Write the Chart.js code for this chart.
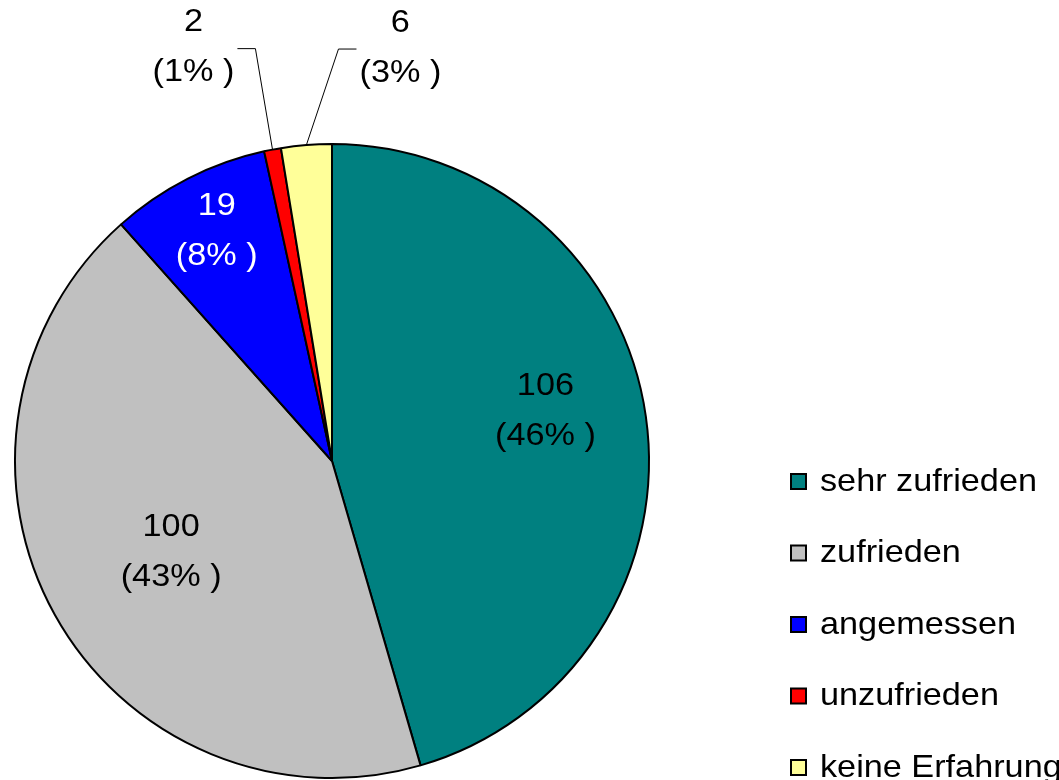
<!DOCTYPE html>
<html>
<head>
<meta charset="utf-8">
<script src="https://cdn.jsdelivr.net/npm/chart.js@4"></script>
<style>
  html, body { margin: 0; padding: 0; background: #fff; overflow: hidden; }
  canvas { display: block; }
</style>
</head>
<body>
<canvas id="pie-chart" width="1059" height="780"></canvas>
<script>
const categories = ['sehr zufrieden', 'zufrieden', 'angemessen', 'unzufrieden', 'keine Erfahrung'];
const counts = [106, 100, 19, 2, 6];
const percents = [46, 43, 8, 1, 3];
const sliceColors = ['#008080', '#C0C0C0', '#0000FF', '#FF0000', '#FFFF99'];

const FONT = '32px "Liberation Sans", Arial, sans-serif';
const STRETCH = 1.07;

// per slice: inside label radius factor, or outside label offset from the edge point
const labelPlacement = [
  { inside: 0.68, shift: -19, color: '#000' },
  { inside: 0.58, shift: 2, color: '#000' },
  { inside: 0.80, shift: -4, color: '#fff' },
  { dx: -79, dy: -102, color: '#000' },
  { dx: 94, dy: -97, color: '#000' }
];

const drawText = (ctx, text, x, y, align) => {
  ctx.save();
  ctx.translate(x, y);
  ctx.scale(STRETCH, 1);
  ctx.textAlign = align || 'center';
  ctx.textBaseline = 'middle';
  ctx.fillText(text, 0, 0);
  ctx.restore();
};

const sliceLabels = {
  id: 'sliceLabels',
  afterDatasetsDraw(chart) {
    const ctx = chart.ctx;
    const arcs = chart.getDatasetMeta(0).data;
    ctx.save();
    ctx.font = FONT;
    arcs.forEach((arc, i) => {
      const { x, y, startAngle, endAngle, outerRadius } = arc.getProps(['x', 'y', 'startAngle', 'endAngle', 'outerRadius'], true);
      const mid = (startAngle + endAngle) / 2;
      const place = labelPlacement[i];
      const top = `${counts[i]}`;
      const bottom = `(${percents[i]}% )`;
      ctx.fillStyle = place.color;
      if (place.inside) {
        const r = outerRadius * place.inside;
        const lx = x + Math.cos(mid) * r;
        const ly = y + Math.sin(mid) * r + place.shift;
        drawText(ctx, top, lx, ly - 25);
        drawText(ctx, bottom, lx, ly + 25);
      } else {
        const ex = x + Math.cos(mid) * outerRadius;
        const ey = y + Math.sin(mid) * outerRadius;
        const lx = ex + place.dx;
        const ly = ey + place.dy;
        drawText(ctx, top, lx, ly - 25);
        drawText(ctx, bottom, lx, ly + 25);
        const side = place.dx < 0 ? 1 : -1;
        const half = ctx.measureText(bottom).width * STRETCH / 2 + 3;
        ctx.strokeStyle = '#000';
        ctx.lineWidth = 1;
        ctx.beginPath();
        ctx.moveTo(ex, ey);
        ctx.lineTo(lx + side * (half + 18), ly + 1);
        ctx.lineTo(lx + side * half, ly + 1);
        ctx.stroke();
      }
    });
    ctx.restore();
  }
};

const boxLegend = {
  id: 'boxLegend',
  afterDraw(chart) {
    const ctx = chart.ctx;
    ctx.save();
    ctx.font = FONT;
    categories.forEach((name, i) => {
      const y = 482 + i * 71.5;
      ctx.fillStyle = sliceColors[i];
      ctx.fillRect(791, y - 8, 15, 15);
      ctx.strokeStyle = '#000';
      ctx.lineWidth = 2;
      ctx.strokeRect(791, y - 8, 15, 15);
      ctx.fillStyle = '#000';
      drawText(ctx, name, 820, y, 'left');
    });
    ctx.restore();
  }
};

new Chart(document.getElementById('pie-chart'), {
  type: 'pie',
  data: {
    labels: categories,
    datasets: [{
      data: counts,
      backgroundColor: sliceColors,
      borderColor: '#000',
      borderWidth: 2
    }]
  },
  options: {
    responsive: false,
    animation: false,
    layout: { padding: { left: 14, top: 143, right: 409, bottom: 1 } },
    plugins: {
      legend: { display: false },
      tooltip: { enabled: false }
    }
  },
  plugins: [sliceLabels, boxLegend]
});
</script>
</body>
</html>
